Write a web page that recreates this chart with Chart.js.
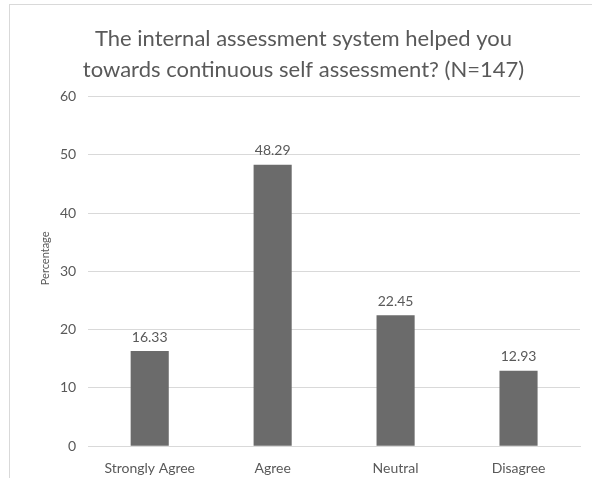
<!DOCTYPE html>
<html>
<head>
<meta charset="utf-8">
<script src="https://cdn.jsdelivr.net/npm/chart.js@4"></script>
<style>
  html, body { margin: 0; padding: 0; background: #fff; overflow: hidden; width: 592px; height: 478px; }
  #frame { position: absolute; left: 9px; top: 4px; width: 600px; height: 500px;
           border-left: 1px solid #d9d9d9; border-top: 1px solid #d9d9d9; }
  #chart { position: absolute; left: 9px; top: 4px; }
</style>
</head>
<body>
<div id="frame"></div>
<canvas id="chart" width="590" height="486"></canvas>
<script>
const categories = ['Strongly Agree', 'Agree', 'Neutral', 'Disagree'];
const percentages = [16.33, 48.29, 22.45, 12.93];
const yTicks = [0, 10, 20, 30, 40, 50, 60];

const textColor = '#595959';
const fontFamily = 'Lato, "Open Sans", sans-serif';

// values written above each bar
const valueLabels = {
  id: 'valueLabels',
  afterDatasetsDraw(chart) {
    const ctx = chart.ctx;
    const meta = chart.getDatasetMeta(0);
    ctx.save();
    ctx.fillStyle = textColor;
    ctx.font = '14px ' + fontFamily;
    ctx.textAlign = 'center';
    ctx.textBaseline = 'bottom';
    meta.data.forEach((bar, i) => {
      ctx.fillText(percentages[i].toFixed(2), bar.x, bar.y - 7);
    });
    ctx.restore();
  }
};

// y axis title, sitting a bit above the middle like the Excel original
const yTitle = {
  id: 'yTitle',
  afterDraw(chart) {
    const ctx = chart.ctx;
    const area = chart.chartArea;
    ctx.save();
    ctx.translate(36, (area.top + area.bottom) / 2 - 13);
    ctx.rotate(-Math.PI / 2);
    ctx.fillStyle = textColor;
    ctx.font = '11px ' + fontFamily;
    ctx.textAlign = 'center';
    ctx.textBaseline = 'middle';
    ctx.fillText('Percentage', 0, 0);
    ctx.restore();
  }
};

new Chart(document.getElementById('chart'), {
  type: 'bar',
  data: {
    labels: categories,
    datasets: [{
      data: percentages,
      backgroundColor: '#6b6b6b',
      categoryPercentage: 0.31,
      barPercentage: 1,
    }],
  },
  options: {
    responsive: false,
    animation: false,
    layout: { padding: { left: 18, right: 19, top: 10, bottom: 7 } },
    plugins: {
      legend: { display: false },
      tooltip: { enabled: false },
      title: {
        display: true,
        text: ['The internal assessment system helped you', 'towards continuous self assessment? (N=147)'],
        color: textColor,
        font: { family: fontFamily, size: 22, weight: 'normal', lineHeight: 1.42 },
        padding: { top: 9, bottom: 11 },
      },
    },
    scales: {
      y: {
        min: yTicks[0],
        max: yTicks[yTicks.length - 1],
        afterBuildTicks(axis) { axis.ticks = yTicks.map(v => ({ value: v })); },
        afterFit(axis) { axis.width += 21; }, // room for the y title
        ticks: { color: textColor, font: { family: fontFamily, size: 14 }, padding: 12 },
        grid: { color: '#d9d9d9', drawTicks: false },
        border: { display: false },
      },
      x: {
        ticks: { color: textColor, font: { family: fontFamily, size: 14 }, padding: 6 },
        grid: { display: false },
        border: { color: '#d9d9d9' },
      },
    },
  },
  plugins: [valueLabels, yTitle],
});
</script>
</body>
</html>
